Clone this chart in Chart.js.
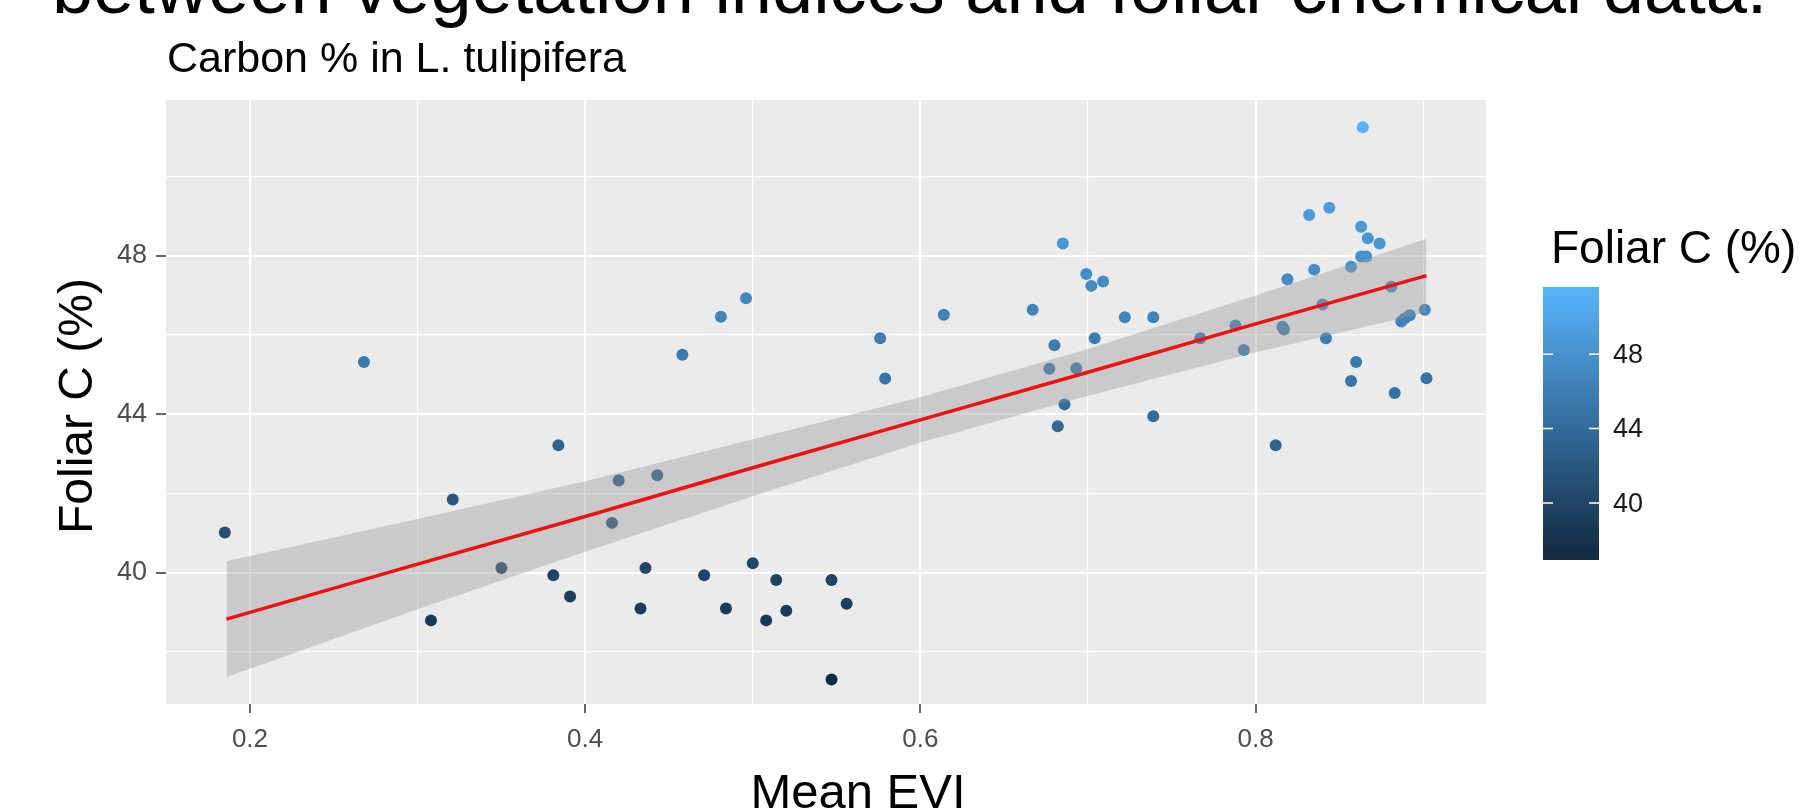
<!DOCTYPE html>
<html>
<head>
<meta charset="utf-8">
<title>Carbon % in L. tulipifera</title>
<script src="https://cdn.jsdelivr.net/npm/chart.js@4.4.1/dist/chart.umd.min.js"></script>
<style>
    html, body { margin: 0; padding: 0; background: #fff; }
    #wrap { width: 1816px; height: 809px; position: relative; }
</style>
</head>
<body>
<div id="wrap"><canvas id="carbonChart"></canvas></div>
<script>
// Mean EVI (x) e Foliar C % (y)
const evi = [0.185, 0.268, 0.308, 0.321, 0.350, 0.381, 0.384, 0.391, 0.416, 0.420,
             0.433, 0.436, 0.443, 0.458, 0.471, 0.481, 0.484, 0.496, 0.500, 0.508,
             0.514, 0.520, 0.547, 0.547, 0.556, 0.576, 0.579, 0.614, 0.667, 0.677,
             0.680, 0.682, 0.685, 0.686, 0.693, 0.699, 0.702, 0.704, 0.709, 0.722,
             0.739, 0.739, 0.767, 0.788, 0.793, 0.812, 0.816, 0.817, 0.819, 0.832,
             0.835, 0.840, 0.842, 0.844, 0.857, 0.857, 0.860, 0.863, 0.863, 0.864,
             0.866, 0.867, 0.874, 0.881, 0.883, 0.887, 0.889, 0.892, 0.901, 0.902];
const carbon = [41.02, 45.32, 38.80, 41.85, 40.12, 39.94, 43.22, 39.40, 41.26, 42.33,
                39.10, 40.12, 42.46, 45.50, 39.94, 46.46, 39.10, 46.93, 40.24, 38.80,
                39.82, 39.04, 39.82, 37.31, 39.22, 45.92, 44.90, 46.51, 46.64, 45.15,
                45.74, 43.70, 48.31, 44.25, 45.16, 47.54, 47.24, 45.92, 47.35, 46.45,
                46.45, 43.95, 45.92, 46.24, 45.62, 43.22, 46.21, 46.14, 47.41, 49.03,
                47.65, 46.77, 45.92, 49.21, 44.84, 47.72, 45.32, 48.73, 47.98, 51.24,
                47.98, 48.44, 48.31, 47.22, 44.54, 46.34, 46.42, 46.50, 46.64, 44.91];

// Reta de regressão e faixa de confiança
const fitX = [0.186, 0.3, 0.4, 0.5, 0.6, 0.7, 0.8, 0.902];
const fitY = [38.83, 40.22, 41.42, 42.65, 43.86, 45.06, 46.28, 47.50];
const fitHigh = [40.29, 41.36, 42.31, 43.37, 44.43, 45.65, 47.00, 48.43];
const fitLow = [37.37, 39.08, 40.53, 41.93, 43.29, 44.47, 45.56, 46.57];

// Ticks
const xTicks = [0.2, 0.4, 0.6, 0.8];
const yTicks = [40, 44, 48];
const legendTicks = [40, 44, 48];
const colourRange = [37.31, 51.24];

const FONT = '"Liberation Sans", Arial, sans-serif';

// Escala de cor contínua (azul escuro -> azul claro)
const lowColour = [0x13, 0x2B, 0x43];
const highColour = [0x56, 0xB1, 0xF7];
const colourFor = v => {
    const t = Math.min(1, Math.max(0, (v - colourRange[0]) / (colourRange[1] - colourRange[0])));
    const c = lowColour.map((lo, i) => Math.round(lo + (highColour[i] - lo) * t));
    return 'rgb(' + c.join(',') + ')';
};

const isMajorX = v => xTicks.some(t => Math.abs(t - v) < 1e-6);
const isMajorY = v => yTicks.some(t => Math.abs(t - v) < 1e-6);

// Fundo do painel, textos do slide e barra de cores
const slidePlugin = {
    id: 'slide',
    beforeDraw(chart) {
        const { ctx, chartArea: a } = chart;
        ctx.save();
        ctx.fillStyle = '#fff';
        ctx.fillRect(0, 0, chart.width, chart.height);
        ctx.fillStyle = '#ebebeb';
        ctx.fillRect(a.left, a.top, a.right - a.left, a.bottom - a.top);
        ctx.restore();
    },
    afterDraw(chart) {
        const ctx = chart.ctx;
        ctx.save();
        ctx.fillStyle = '#000';
        ctx.textBaseline = 'alphabetic';

        // titulo do slide (cortado no topo)
        ctx.font = '74px ' + FONT;
        ctx.fillText('between vegetation indices and foliar chemical data.', 52, 13);

        // titulo do gráfico
        ctx.font = '43px ' + FONT;
        ctx.fillText('Carbon % in L. tulipifera', 167, 72);

        // eixo x
        ctx.font = '49px ' + FONT;
        ctx.textAlign = 'center';
        ctx.fillText('Mean EVI', 858, 808);

        // eixo y
        ctx.save();
        ctx.translate(79, 406);
        ctx.rotate(-Math.PI / 2);
        ctx.textBaseline = 'middle';
        ctx.font = '48px ' + FONT;
        ctx.fillText('Foliar C (%)', 0, 0);
        ctx.restore();

        // legenda
        ctx.textAlign = 'left';
        ctx.font = '46px ' + FONT;
        ctx.fillText('Foliar C (%)', 1551, 263);

        const barLeft = 1543, barRight = 1599, barTop = 287, barBottom = 560;
        const half = (colourRange[1] - colourRange[0]) / 19 / 2;
        const vTop = colourRange[1] + half;
        const vBottom = colourRange[0] - half;
        const yFor = v => barBottom - (v - vBottom) / (vTop - vBottom) * (barBottom - barTop);

        const grad = ctx.createLinearGradient(0, yFor(colourRange[0]), 0, yFor(colourRange[1]));
        grad.addColorStop(0, colourFor(colourRange[0]));
        grad.addColorStop(1, colourFor(colourRange[1]));
        ctx.fillStyle = grad;
        ctx.fillRect(barLeft, barTop, barRight - barLeft, barBottom - barTop);

        ctx.strokeStyle = '#fff';
        ctx.lineWidth = 1.5;
        ctx.fillStyle = '#1a1a1a';
        ctx.font = '27px ' + FONT;
        ctx.textBaseline = 'middle';
        legendTicks.forEach(v => {
            const y = yFor(v);
            ctx.beginPath();
            ctx.moveTo(barLeft, y); ctx.lineTo(barLeft + 10, y);
            ctx.moveTo(barRight - 10, y); ctx.lineTo(barRight, y);
            ctx.stroke();
            ctx.fillText(String(v), barRight + 14, y + 1);
        });
        ctx.restore();
    }
};

const chartCtx = document.getElementById('carbonChart');
new Chart(chartCtx, {
    type: 'scatter',
    data: {
        datasets: [{
            label: 'Foliar C',
            data: evi.map((x, i) => ({ x: x, y: carbon[i] })),
            backgroundColor: carbon.map(colourFor),
            pointRadius: 6,
            pointBorderWidth: 0,
            order: 3
        }, {
            label: 'upper',
            type: 'line',
            data: fitX.map((x, i) => ({ x: x, y: fitHigh[i] })),
            borderColor: 'transparent',
            backgroundColor: 'rgba(153, 153, 153, 0.4)',
            pointRadius: 0,
            fill: '+1',
            order: 2
        }, {
            label: 'lower',
            type: 'line',
            data: fitX.map((x, i) => ({ x: x, y: fitLow[i] })),
            borderColor: 'transparent',
            pointRadius: 0,
            fill: false,
            order: 2
        }, {
            label: 'fit',
            type: 'line',
            data: fitX.map((x, i) => ({ x: x, y: fitY[i] })),
            borderColor: '#ee1111',
            borderWidth: 3.5,
            pointRadius: 0,
            fill: false,
            order: 1
        }]
    },
    options: {
        responsive: true,
        maintainAspectRatio: false,
        animation: false,
        layout: {
            padding: { top: 100, right: 330, bottom: 0, left: 0 }
        },
        plugins: {
            legend: { display: false },
            tooltip: { enabled: false }
        },
        scales: {
            x: {
                type: 'linear',
                min: 0.1499,
                max: 0.9375,
                afterFit: function(scale) { scale.height = 105; },
                border: { display: false },
                grid: {
                    color: '#fff',
                    lineWidth: c => (c.tick && isMajorX(c.tick.value)) ? 2 : 1.2,
                    tickLength: 9,
                    tickWidth: 1.5,
                    tickColor: c => (c.tick && isMajorX(c.tick.value)) ? '#333' : 'rgba(0,0,0,0)'
                },
                ticks: {
                    stepSize: 0.1,
                    includeBounds: false,
                    autoSkip: false,
                    maxRotation: 0,
                    padding: 11,
                    color: '#4d4d4d',
                    font: { family: FONT, size: 26 },
                    callback: function(value) {
                        return isMajorX(value) ? value.toFixed(1) : '';
                    }
                }
            },
            y: {
                type: 'linear',
                min: 36.69,
                max: 51.93,
                afterFit: function(scale) { scale.width = 166; },
                border: { display: false },
                grid: {
                    color: '#fff',
                    lineWidth: c => (c.tick && isMajorY(c.tick.value)) ? 2 : 1.2,
                    tickLength: 10,
                    tickWidth: 1.5,
                    tickColor: c => (c.tick && isMajorY(c.tick.value)) ? '#333' : 'rgba(0,0,0,0)'
                },
                ticks: {
                    stepSize: 2,
                    includeBounds: false,
                    autoSkip: false,
                    padding: 9,
                    color: '#4d4d4d',
                    font: { family: FONT, size: 27 },
                    callback: function(value) {
                        return isMajorY(value) ? String(value) : '';
                    }
                }
            }
        }
    },
    plugins: [slidePlugin]
});
</script>
</body>
</html>
